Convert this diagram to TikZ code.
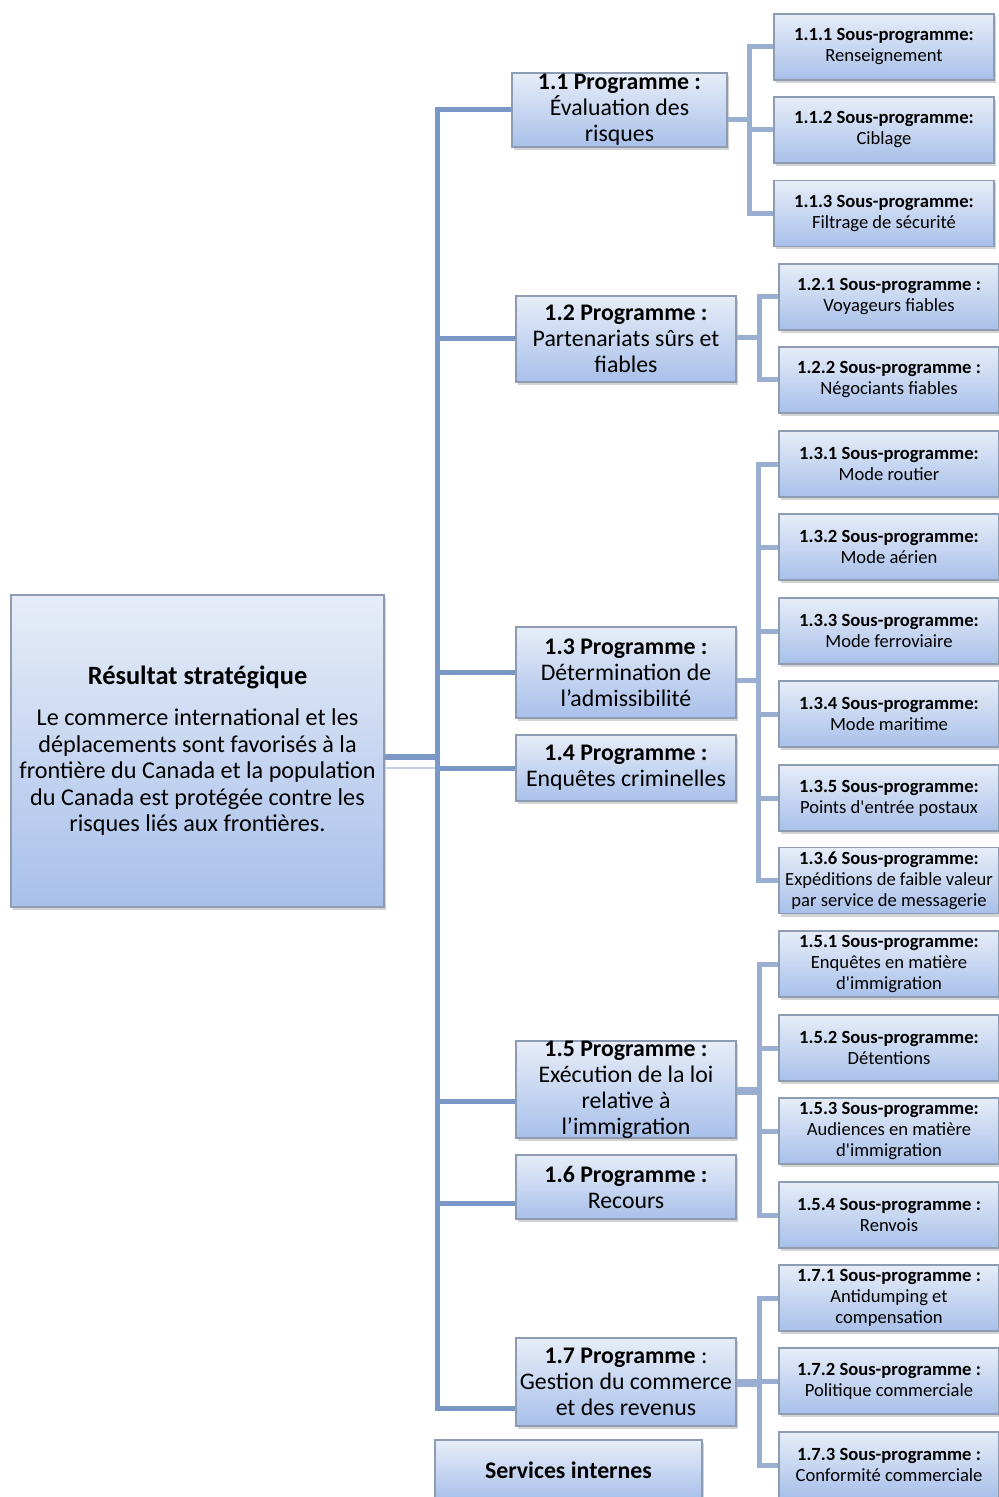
\documentclass[tikz,border=0pt]{standalone}
\usepackage{fontspec}
\setmainfont{Carlito}
\usetikzlibrary{shadows,calc}
\definecolor{trunkblue}{HTML}{7B97C7}
\definecolor{branchblue}{HTML}{9AAED2}
\definecolor{boxtop}{HTML}{E7EDF8}
\definecolor{boxbottom}{HTML}{A8C0EA}
\definecolor{boxline}{HTML}{8E9CB2}

\begin{document}
\begin{tikzpicture}[x=0.5pt,y=-0.5pt,
box/.style={draw=boxline, line width=0.9pt, top color=boxtop, bottom color=boxbottom, align=center, inner xsep=1pt, inner ysep=0pt,
  drop shadow={shadow xshift=1pt, shadow yshift=-1.5pt, opacity=0.35}},
prog/.style={box, minimum width=110pt, font=\fontsize{11.9}{13}\selectfont},
sub/.style={box, minimum width=110pt, minimum height=33pt, font=\fontsize{9.3}{10.5}\selectfont},
trunk/.style={draw=trunkblue, line width=2.5pt},
branch/.style={draw=branchblue, line width=2.5pt}]

\useasboundingbox (0,0) rectangle (998,1497);

% strategic outcome
\node[box, minimum width=186.5pt, minimum height=156pt, font=\fontsize{12.1}{13.3}\selectfont] (sr) at (197.5,751)
  {{\bfseries\fontsize{13.2}{14}\selectfont R\'esultat strat\'egique}\\[7pt]
   Le commerce international et les\\d\'eplacements sont favoris\'es \`a la\\fronti\`ere du Canada et la population\\du Canada est prot\'eg\'ee contre les\\risques li\'es aux fronti\`eres.};

% programmes
\node[prog, minimum width=107.5pt, minimum height=37pt] (p11) at (619.5,110) {\textbf{1.1 Programme :}\\\'Evaluation des\\risques};
\node[prog, minimum height=43pt] (p12) at (626,339) {\textbf{1.2 Programme :}\\Partenariats s\^urs et\\fiables};
\node[prog, minimum height=45.5pt] (p13) at (626,672.5) {\textbf{1.3 Programme :}\\D\'etermination de\\l'admissibilit\'e};
\node[prog, minimum height=33pt] (p14) at (626,768) {\textbf{1.4 Programme :}\\Enqu\^etes criminelles};
\node[prog, minimum height=47.5pt] (p15) at (626,1089.5) {\textbf{1.5 Programme :}\\Ex\'ecution de la loi\\relative \`a\\l'immigration};
\node[prog, minimum height=32pt] (p16) at (626,1187) {\textbf{1.6 Programme :}\\Recours};
\node[prog, minimum height=44pt] (p17) at (626,1382) {\textbf{1.7 Programme} :\\Gestion du commerce\\et des revenus};
\node[prog, minimum width=133.5pt, minimum height=30pt, font=\bfseries\fontsize{11.9}{13}\selectfont] (si) at (568.5,1470) {Services internes};

% sub-programmes
\node[sub] (s111) at (884,47) {\textbf{1.1.1 Sous-programme:}\\Renseignement};
\node[sub] (s112) at (884,130) {\textbf{1.1.2 Sous-programme:}\\Ciblage};
\node[sub] (s113) at (884,213.5) {\textbf{1.1.3 Sous-programme:}\\Filtrage de s\'ecurit\'e};
\node[sub] (s121) at (889,297) {\textbf{1.2.1 Sous-programme :}\\Voyageurs fiables};
\node[sub] (s122) at (889,380) {\textbf{1.2.2 Sous-programme :}\\N\'egociants fiables};
\node[sub] (s131) at (889,464) {\textbf{1.3.1 Sous-programme:}\\Mode routier};
\node[sub] (s132) at (889,547) {\textbf{1.3.2 Sous-programme:}\\Mode a\'erien};
\node[sub] (s133) at (889,631) {\textbf{1.3.3 Sous-programme:}\\Mode ferroviaire};
\node[sub] (s134) at (889,714) {\textbf{1.3.4 Sous-programme:}\\Mode maritime};
\node[sub] (s135) at (889,798) {\textbf{1.3.5 Sous-programme:}\\Points d\textquotesingle entr\'ee postaux};
\node[sub] (s136) at (889,880.5) {\textbf{1.3.6 Sous-programme:}\\Exp\'editions de faible valeur\\par service de messagerie};
\node[sub] (s151) at (889,964) {\textbf{1.5.1 Sous-programme:}\\Enqu\^etes en mati\`ere\\d\textquotesingle immigration};
\node[sub] (s152) at (889,1048) {\textbf{1.5.2 Sous-programme:}\\D\'etentions};
\node[sub] (s153) at (889,1131) {\textbf{1.5.3 Sous-programme:}\\Audiences en mati\`ere\\d\textquotesingle immigration};
\node[sub] (s154) at (889,1215) {\textbf{1.5.4 Sous-programme :}\\Renvois};
\node[sub] (s171) at (889,1298) {\textbf{1.7.1 Sous-programme :}\\Antidumping et\\compensation};
\node[sub] (s172) at (889,1381) {\textbf{1.7.2 Sous-programme :}\\Politique commerciale};
\node[sub] (s173) at (889,1465) {\textbf{1.7.3 Sous-programme :}\\Conformit\'e commerciale};

% trunk
\coordinate (hub) at (437,757);
\draw[trunk, line width=3pt] (sr.east |- hub) -- (hub);
\draw[branchblue!60, line width=1pt] (sr.east |- p14.west) -- (hub |- p14.west);
\draw[trunk] (hub) |- (p11.west);
\draw[trunk] (hub) |- (p12.west);
\draw[trunk] (hub) |- (p13.west);
\draw[trunk] (hub) |- (p14.west);
\draw[trunk] (hub) |- ([yshift=-6pt]p15.west);
\draw[trunk] (hub) |- ([yshift=-8pt]p16.west);
\draw[trunk] (hub) |- ([yshift=-13pt]p17.west);

% brackets
\coordinate (b11) at (749,120);
\coordinate (b12) at (759,338);
\coordinate (b13) at (758,680);
\coordinate (b15) at (759,1091);
\coordinate (b17) at (759,1383);
\draw[branch] (p11.east |- b11) -- (b11);
\draw[branch] (p12.east |- b12) -- (b12);
\draw[branch] (p13.east |- b13) -- (b13);
\draw[branch, line width=4pt] (p15.east |- b15) -- (b15);
\draw[branch, line width=4pt] (p17.east |- b17) -- (b17);
\foreach \s in {s111,s112,s113} \draw[branch] (b11) |- (\s.west);
\foreach \s in {s121,s122} \draw[branch] (b12) |- (\s.west);
\foreach \s in {s131,s132,s133,s134,s135,s136} \draw[branch] (b13) |- (\s.west);
\foreach \s in {s151,s152,s153,s154} \draw[branch] (b15) |- (\s.west);
\foreach \s in {s171,s172,s173} \draw[branch] (b17) |- (\s.west);
%
\end{tikzpicture}
\end{document}
